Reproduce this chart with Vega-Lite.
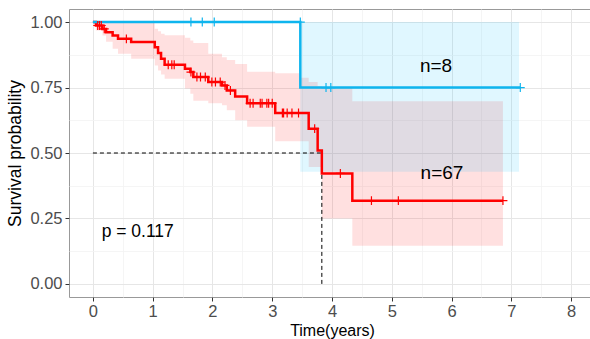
{
  "$schema": "https://vega.github.io/schema/vega-lite/v6.json",
  "width": 526,
  "height": 288,
  "autosize": "none",
  "padding": {"left": 69, "top": 9, "right": 0, "bottom": 42},
  "background": "white",
  "config": {
    "font": "Liberation Sans",
    "view": {"stroke": "#999999", "strokeWidth": 1},
    "axis": {
      "domain": false,
      "labelFont": "Liberation Sans",
      "labelFontSize": 16.5,
      "labelColor": "#4D4D4D",
      "tickColor": "#333333",
      "tickSize": 4,
      "tickWidth": 1,
      "titleFont": "Liberation Sans",
      "titleFontSize": 16,
      "titleFontWeight": "normal",
      "titleColor": "#000000"
    }
  },
  "datasets": {
    "redkm": [
      {"t": 0, "s": 1.0}, {"t": 0.05, "s": 0.987}, {"t": 0.16, "s": 0.974}, {"t": 0.22, "s": 0.961},
      {"t": 0.33, "s": 0.949}, {"t": 0.42, "s": 0.936}, {"t": 0.64, "s": 0.924}, {"t": 1.035, "s": 0.904},
      {"t": 1.09, "s": 0.882}, {"t": 1.14, "s": 0.86}, {"t": 1.2, "s": 0.837}, {"t": 1.54, "s": 0.822},
      {"t": 1.63, "s": 0.809}, {"t": 1.68, "s": 0.79}, {"t": 1.93, "s": 0.771}, {"t": 2.16, "s": 0.758},
      {"t": 2.24, "s": 0.739}, {"t": 2.38, "s": 0.716}, {"t": 2.58, "s": 0.69}, {"t": 3.05, "s": 0.653},
      {"t": 3.61, "s": 0.593}, {"t": 3.76, "s": 0.51}, {"t": 3.83, "s": 0.422}, {"t": 4.34, "s": 0.318},
      {"t": 6.86, "s": 0.318}
    ],
    "bluekm": [
      {"t": 0, "s": 1.0}, {"t": 3.47, "s": 0.75}, {"t": 7.15, "s": 0.75}
    ],
    "redci": [
      {"t": 0, "lo": 1, "hi": 1}, {"t": 0.05, "lo": 0.968, "hi": 1}, {"t": 0.16, "lo": 0.949, "hi": 1},
      {"t": 0.22, "lo": 0.925, "hi": 1}, {"t": 0.33, "lo": 0.898, "hi": 1}, {"t": 0.42, "lo": 0.879, "hi": 1},
      {"t": 0.64, "lo": 0.86, "hi": 1}, {"t": 1.035, "lo": 0.834, "hi": 0.975}, {"t": 1.09, "lo": 0.815, "hi": 0.965},
      {"t": 1.14, "lo": 0.8, "hi": 0.955}, {"t": 1.2, "lo": 0.784, "hi": 0.95}, {"t": 1.54, "lo": 0.746, "hi": 0.94},
      {"t": 1.63, "lo": 0.726, "hi": 0.93}, {"t": 1.68, "lo": 0.7, "hi": 0.92}, {"t": 1.93, "lo": 0.69, "hi": 0.879},
      {"t": 2.16, "lo": 0.682, "hi": 0.866}, {"t": 2.24, "lo": 0.663, "hi": 0.855}, {"t": 2.38, "lo": 0.625, "hi": 0.84},
      {"t": 2.58, "lo": 0.6, "hi": 0.81}, {"t": 3.05, "lo": 0.545, "hi": 0.805}, {"t": 3.47, "lo": 0.545, "hi": 0.787},
      {"t": 3.61, "lo": 0.447, "hi": 0.771},
      {"t": 3.76, "lo": 0.447, "hi": 0.755}, {"t": 3.83, "lo": 0.25, "hi": 0.749}, {"t": 4.34, "lo": 0.146, "hi": 0.698},
      {"t": 6.86, "lo": 0.146, "hi": 0.698}
    ],
    "blueci": [
      {"t": 3.47, "lo": 0.428, "hi": 1.0}, {"t": 7.13, "lo": 0.428, "hi": 1.0}
    ],
    "redcens": [
      {"t": 0.08, "s": 0.987}, {"t": 0.11, "s": 0.987}, {"t": 0.14, "s": 0.987}, {"t": 0.19, "s": 0.974},
      {"t": 0.56, "s": 0.936}, {"t": 1.26, "s": 0.837}, {"t": 1.32, "s": 0.837}, {"t": 1.36, "s": 0.837},
      {"t": 1.64, "s": 0.809}, {"t": 1.74, "s": 0.79}, {"t": 1.8, "s": 0.79}, {"t": 1.88, "s": 0.79},
      {"t": 1.99, "s": 0.771}, {"t": 2.05, "s": 0.771}, {"t": 2.13, "s": 0.771}, {"t": 2.21, "s": 0.758},
      {"t": 2.3, "s": 0.739}, {"t": 2.63, "s": 0.69}, {"t": 2.68, "s": 0.69}, {"t": 2.8, "s": 0.69},
      {"t": 2.83, "s": 0.69}, {"t": 2.91, "s": 0.69}, {"t": 2.94, "s": 0.69}, {"t": 3.0, "s": 0.69},
      {"t": 3.17, "s": 0.653}, {"t": 3.19, "s": 0.653}, {"t": 3.25, "s": 0.653}, {"t": 3.33, "s": 0.653},
      {"t": 3.44, "s": 0.653}, {"t": 3.71, "s": 0.593}, {"t": 4.14, "s": 0.422}, {"t": 4.66, "s": 0.318},
      {"t": 5.11, "s": 0.318}, {"t": 6.86, "s": 0.318}
    ],
    "bluecens": [
      {"t": 1.64, "s": 1.0}, {"t": 1.83, "s": 1.0}, {"t": 2.03, "s": 1.0}, {"t": 3.47, "s": 1.0},
      {"t": 3.9, "s": 0.75}, {"t": 3.98, "s": 0.75}, {"t": 7.15, "s": 0.75}
    ],
    "hmed": [{"x": 0, "x2": 3.83, "y": 0.5}],
    "vmed": [{"x": 3.83, "y": 0, "y2": 0.5}],
    "labels": [
      {"t": 5.74, "s": 0.834, "label": "n=8"},
      {"t": 5.84, "s": 0.422, "label": "n=67"}
    ],
    "pval": [{"t": 0.146, "s": 0.197, "label": "p = 0.117"}]
  },
  "encoding": {
    "x": {
      "field": "t", "type": "quantitative",
      "scale": {"domain": [-0.4, 8.4], "nice": false, "zero": false},
      "axis": {
        "title": "Time(years)",
        "titlePadding": 3,
        "values": [0, 0.5, 1, 1.5, 2, 2.5, 3, 3.5, 4, 4.5, 5, 5.5, 6, 6.5, 7, 7.5, 8],
        "labelExpr": "datum.value % 1 === 0 ? format(datum.value, 'd') : ''",
        "labelPadding": 2,
        "tickOpacity": {"condition": {"test": "datum.value % 1 !== 0", "value": 0}, "value": 1},
        "gridColor": {"condition": {"test": "datum.value % 1 !== 0", "value": "#F2F2F2"}, "value": "#E6E6E6"},
        "gridWidth": {"condition": {"test": "datum.value % 1 !== 0", "value": 0.8}, "value": 1}
      }
    },
    "y": {
      "field": "s", "type": "quantitative",
      "scale": {"domain": [-0.05, 1.05], "nice": false, "zero": false},
      "axis": {
        "title": "Survival probability",
        "titleFontSize": 17.5,
        "titlePadding": 5,
        "values": [0, 0.125, 0.25, 0.375, 0.5, 0.625, 0.75, 0.875, 1],
        "labelExpr": "(datum.value * 4) % 1 === 0 ? format(datum.value, '.2f') : ''",
        "labelPadding": 3,
        "tickOpacity": {"condition": {"test": "(datum.value * 4) % 1 !== 0", "value": 0}, "value": 1},
        "gridColor": {"condition": {"test": "(datum.value * 4) % 1 !== 0", "value": "#F2F2F2"}, "value": "#E6E6E6"},
        "gridWidth": {"condition": {"test": "(datum.value * 4) % 1 !== 0", "value": 0.8}, "value": 1}
      }
    }
  },
  "layer": [
    {
      "data": {"name": "redci"},
      "mark": {"type": "area", "interpolate": "step-after", "color": "#FF0000", "opacity": 0.12},
      "encoding": {"y": {"field": "lo", "type": "quantitative"}, "y2": {"field": "hi"}}
    },
    {
      "data": {"name": "blueci"},
      "mark": {"type": "area", "interpolate": "step-after", "color": "#00BFFF", "opacity": 0.12},
      "encoding": {"y": {"field": "lo", "type": "quantitative"}, "y2": {"field": "hi"}}
    },
    {
      "data": {"name": "hmed"},
      "mark": {"type": "rule", "color": "#000000", "strokeDash": [4, 3], "strokeWidth": 1},
      "encoding": {"x": {"field": "x", "type": "quantitative"}, "x2": {"field": "x2"}, "y": {"field": "y", "type": "quantitative"}}
    },
    {
      "data": {"name": "vmed"},
      "mark": {"type": "rule", "color": "#000000", "strokeDash": [4, 3], "strokeWidth": 1},
      "encoding": {"x": {"field": "x", "type": "quantitative"}, "y": {"field": "y", "type": "quantitative"}, "y2": {"field": "y2"}}
    },
    {
      "data": {"name": "redkm"},
      "mark": {"type": "line", "interpolate": "step-after", "color": "#FF0000", "strokeWidth": 2.5},
      "encoding": {}
    },
    {
      "data": {"name": "bluekm"},
      "mark": {"type": "line", "interpolate": "step-after", "color": "#0FB5EE", "strokeWidth": 2.5},
      "encoding": {}
    },
    {
      "data": {"name": "redcens"},
      "mark": {"type": "point", "shape": "M -1 0 L 1 0 M 0 -1 L 0 1", "size": 80, "filled": false, "color": "#FF0000", "strokeWidth": 1.2, "opacity": 1},
      "encoding": {}
    },
    {
      "data": {"name": "bluecens"},
      "mark": {"type": "point", "shape": "M -1 0 L 1 0 M 0 -1 L 0 1", "size": 80, "filled": false, "color": "#0FB5EE", "strokeWidth": 1.2, "opacity": 1},
      "encoding": {}
    },
    {
      "data": {"name": "labels"},
      "mark": {"type": "text", "fontSize": 19, "align": "center", "baseline": "middle", "color": "#000000"},
      "encoding": {"text": {"field": "label"}}
    },
    {
      "data": {"name": "pval"},
      "mark": {"type": "text", "fontSize": 17.5, "align": "left", "baseline": "middle", "color": "#000000"},
      "encoding": {"text": {"field": "label"}}
    }
  ]
}
